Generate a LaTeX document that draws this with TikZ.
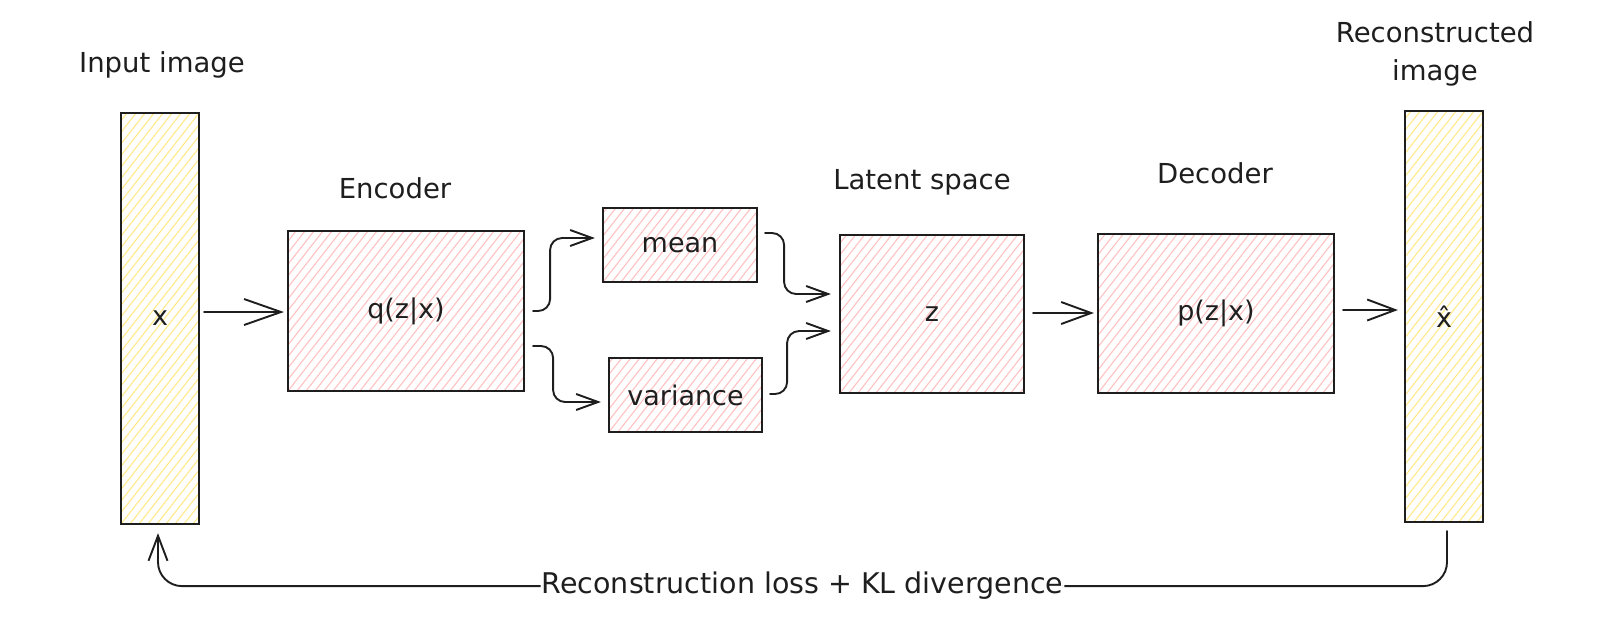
\documentclass[tikz,border=0pt]{standalone}
\usepackage{fontspec}
\setmainfont{DejaVu Sans}
\usetikzlibrary{arrows.meta,calc}
\definecolor{ink}{HTML}{1E1E1E}
\definecolor{pinkh}{HTML}{FFC2C2}
\definecolor{yelh}{HTML}{FFE98A}
\begin{document}
\begin{tikzpicture}[x=1pt,y=-1pt,
  box/.style={draw=ink, line width=2.2pt, rectangle, inner sep=0pt, text=ink,
    font=\fontsize{27}{32}\selectfont},
  hatch/.style={path picture={\foreach \k in {-40,...,30}{
      \draw[line width=1.1pt,#1] ($(path picture bounding box.south west)+(\k*9,0)$) -- ++(52:560pt);}}},
  redbox/.style={box, hatch=pinkh},
  barbox/.style={box, hatch=yelh, minimum width=78pt, minimum height=411pt},
  lbl/.style={anchor=base, text=ink, font=\fontsize{27.5}{38}\selectfont},
  conn/.style={draw=ink, line width=1.9pt, line cap=round, line join=round},
  elbow/.style={conn, rounded corners=12pt},
]
\useasboundingbox (0,0) rectangle (1600,619);

% boxes
\node[barbox] (inbar) at (160,318.5) {x};
\node[redbox, minimum width=236pt, minimum height=160pt] (enc) at (406,311) {q(z|x)};
\node[redbox, minimum width=154pt, minimum height=74pt] (mean) at (680,245) {mean};
\node[redbox, minimum width=153pt, minimum height=74pt] (var) at (685.5,395) {variance};
\node[redbox, minimum width=184pt, minimum height=158pt] (z) at (932,314) {z};
\node[redbox, minimum width=236pt, minimum height=159pt] (dec) at (1216,313.5) {p(z|x)};
\node[barbox] (outbar) at (1444,316.5) {x^^^^0302};

% labels
\node[lbl] (linput) at (162,72) {Input image};
\node[lbl] (lenc) at (395,198) {Encoder};
\node[lbl] (llat) at (922,189) {Latent space};
\node[lbl] (ldec) at (1215,183) {Decoder};
\node[lbl, align=center] (lrec) at (1435,80) {Reconstructed\\image};

% connectors
\draw[conn, -{Straight Barb[length=37pt,width=26pt]}]
  ($(inbar.east)+(4,-6.5)$) -- ($(enc.west)+(-3,1)$);
\draw[elbow, -{Straight Barb[length=22pt,width=16pt]}]
  ($(enc.east)+(8,0)$) -- ++(17,0) |- ($(mean.west)+(-7,-7)$);
\draw[elbow, -{Straight Barb[length=22pt,width=16pt]}]
  ($(enc.east)+(8,35)$) -- ++(20,0) |- ($(var.west)+(-7,7)$);
\draw[elbow, -{Straight Barb[length=22pt,width=16pt]}]
  ($(mean.east)+(7,-12)$) -- ++(19,0) |- ($(z.west)+(-8,-20)$);
\draw[elbow, -{Straight Barb[length=22pt,width=16pt]}]
  ($(var.east)+(7,-1)$) -- ++(17,0) |- ($(z.west)+(-8,17)$);
\draw[conn, -{Straight Barb[length=30pt,width=22pt]}]
  ($(z.east)+(8,-1)$) -- ($(dec.west)+(-3,-0.5)$);
\draw[conn, -{Straight Barb[length=28pt,width=21pt]}]
  ($(dec.east)+(8,-3.5)$) -- ($(outbar.west)+(-6,-6.5)$);
\draw[conn, rounded corners=24pt, -{Straight Barb[length=25pt,width=19pt]}]
  ($(outbar.south)+(3,8)$) |- node[pos=0.75, fill=white, inner xsep=1pt, inner ysep=2pt, text=ink,
     font=\fontsize{28.5}{34}\selectfont] (loss) {Reconstruction loss + KL divergence}
  ($(inbar.south)+(-2,61)$) -- ($(inbar.south)+(-2,8)$);
\end{tikzpicture}
\end{document}
